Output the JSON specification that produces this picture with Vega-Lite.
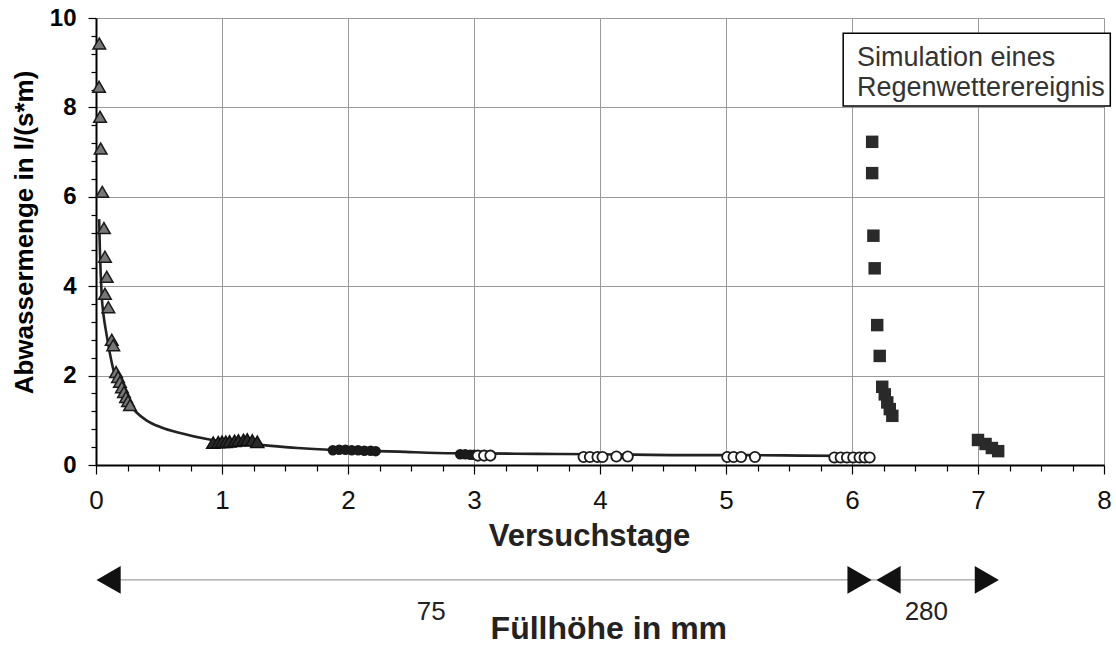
{
  "$schema": "https://vega.github.io/schema/vega-lite/v6.json",
  "width": 1008,
  "height": 447,
  "autosize": "none",
  "padding": {"left": 96, "top": 18, "right": 12, "bottom": 181},
  "background": "white",
  "config": {"view": {"stroke": null}, "font": "Liberation Sans"},
  "datasets": {
    "curve": [
      {"x": 0.025, "y": 5.5}, {"x": 0.03, "y": 4.9}, {"x": 0.037, "y": 4.3}, {"x": 0.045, "y": 3.8},
      {"x": 0.06, "y": 3.35}, {"x": 0.079, "y": 3.0}, {"x": 0.11, "y": 2.5}, {"x": 0.15, "y": 2.0},
      {"x": 0.2, "y": 1.65}, {"x": 0.25, "y": 1.42}, {"x": 0.32, "y": 1.18}, {"x": 0.4, "y": 1.0},
      {"x": 0.52, "y": 0.84}, {"x": 0.66, "y": 0.72}, {"x": 0.9, "y": 0.57}, {"x": 1.1, "y": 0.5},
      {"x": 1.3, "y": 0.45}, {"x": 1.6, "y": 0.38}, {"x": 1.85, "y": 0.34}, {"x": 2.1, "y": 0.32},
      {"x": 2.4, "y": 0.3}, {"x": 2.7, "y": 0.27}, {"x": 3.0, "y": 0.26}, {"x": 3.5, "y": 0.25},
      {"x": 4.0, "y": 0.24}, {"x": 4.7, "y": 0.22}, {"x": 5.2, "y": 0.22}, {"x": 5.6, "y": 0.21},
      {"x": 6.12, "y": 0.2}
    ],
    "tri": [
      {"x": 0.026, "y": 9.43}, {"x": 0.024, "y": 8.46}, {"x": 0.032, "y": 7.79}, {"x": 0.037, "y": 7.08},
      {"x": 0.05, "y": 6.11}, {"x": 0.063, "y": 5.3}, {"x": 0.071, "y": 4.66}, {"x": 0.085, "y": 4.21},
      {"x": 0.071, "y": 3.83}, {"x": 0.098, "y": 3.53}, {"x": 0.125, "y": 2.8}, {"x": 0.137, "y": 2.68},
      {"x": 0.159, "y": 2.08}, {"x": 0.175, "y": 1.97}, {"x": 0.19, "y": 1.86}, {"x": 0.206, "y": 1.74},
      {"x": 0.222, "y": 1.63}, {"x": 0.238, "y": 1.52}, {"x": 0.254, "y": 1.43}, {"x": 0.27, "y": 1.34}
    ],
    "tri1": [
      {"x": 0.93, "y": 0.5}, {"x": 0.97, "y": 0.51}, {"x": 1.0, "y": 0.52}, {"x": 1.03, "y": 0.52},
      {"x": 1.06, "y": 0.53}, {"x": 1.1, "y": 0.54}, {"x": 1.13, "y": 0.55}, {"x": 1.17, "y": 0.56},
      {"x": 1.2, "y": 0.57}, {"x": 1.24, "y": 0.55}, {"x": 1.28, "y": 0.52}
    ],
    "dots": [
      {"x": 1.88, "y": 0.33}, {"x": 1.93, "y": 0.34}, {"x": 1.98, "y": 0.34}, {"x": 2.03, "y": 0.33},
      {"x": 2.08, "y": 0.33}, {"x": 2.13, "y": 0.32}, {"x": 2.18, "y": 0.32}, {"x": 2.22, "y": 0.31},
      {"x": 2.89, "y": 0.24}, {"x": 2.93, "y": 0.24}, {"x": 2.97, "y": 0.23}, {"x": 3.0, "y": 0.23}
    ],
    "open": [
      {"x": 3.03, "y": 0.21}, {"x": 3.08, "y": 0.21}, {"x": 3.13, "y": 0.21},
      {"x": 3.87, "y": 0.18}, {"x": 3.92, "y": 0.18}, {"x": 3.98, "y": 0.18}, {"x": 4.02, "y": 0.18},
      {"x": 4.13, "y": 0.19}, {"x": 4.22, "y": 0.19},
      {"x": 5.01, "y": 0.18}, {"x": 5.06, "y": 0.18}, {"x": 5.12, "y": 0.18}, {"x": 5.23, "y": 0.18},
      {"x": 5.86, "y": 0.17}, {"x": 5.91, "y": 0.17}, {"x": 5.96, "y": 0.17}, {"x": 6.01, "y": 0.17},
      {"x": 6.06, "y": 0.17}, {"x": 6.1, "y": 0.17}, {"x": 6.14, "y": 0.17}
    ],
    "sq": [
      {"x": 6.16, "y": 7.23}, {"x": 6.16, "y": 6.53}, {"x": 6.17, "y": 5.13}, {"x": 6.18, "y": 4.4},
      {"x": 6.2, "y": 3.13}, {"x": 6.22, "y": 2.44}, {"x": 6.24, "y": 1.75}, {"x": 6.26, "y": 1.58},
      {"x": 6.28, "y": 1.4}, {"x": 6.3, "y": 1.25}, {"x": 6.32, "y": 1.1},
      {"x": 7.0, "y": 0.56}, {"x": 7.06, "y": 0.47}, {"x": 7.11, "y": 0.38}, {"x": 7.16, "y": 0.31}
    ],
    "box": [{"x": 5.93, "x2": 8.05, "y": 9.66, "y2": 8.03}],
    "boxtext": [
      {"x": 6.04, "y": 9.1, "t": "Simulation eines"},
      {"x": 6.04, "y": 8.43, "t": "Regenwetterereignis"}
    ],
    "arrowline": [{"x": 0.05, "x2": 7.15, "y": -2.57}],
    "heads": [
      {"x": 0.1, "y": -2.57, "s": "triangle-left"},
      {"x": 6.06, "y": -2.57, "s": "triangle-right"},
      {"x": 6.29, "y": -2.57, "s": "triangle-left"},
      {"x": 7.07, "y": -2.57, "s": "triangle-right"}
    ],
    "nums": [
      {"x": 2.66, "y": -3.29, "t": "75"},
      {"x": 6.59, "y": -3.29, "t": "280"}
    ],
    "sub": [{"x": 4.07, "y": -3.68, "t": "Füllhöhe in mm"}]
  },
  "encoding": {
    "x": {
      "field": "x", "type": "quantitative",
      "scale": {"domain": [0, 8], "nice": false, "zero": false},
      "axis": {
        "values": [0,0.25,0.5,0.75,1,1.25,1.5,1.75,2,2.25,2.5,2.75,3,3.25,3.5,3.75,4,4.25,4.5,4.75,5,5.25,5.5,5.75,6,6.25,6.5,6.75,7,7.25,7.5,7.75,8],
        "labelExpr": "abs(datum.value - round(datum.value)) < 0.001 ? format(datum.value, 'd') : ''",
        "labelOverlap": false,
        "labelFlush": false,
        "grid": true,
        "gridColor": "#9a9a9a",
        "gridWidth": 1,
        "gridOpacity": {"condition": {"test": "abs(datum.value - round(datum.value)) < 0.001", "value": 1}, "value": 0},
        "tickSize": {"condition": {"test": "abs(datum.value - round(datum.value)) < 0.001", "value": 9}, "value": 6},
        "tickColor": "#000",
        "tickWidth": 1.2,
        "domainColor": "#000",
        "domainWidth": 2,
        "labelFont": "Liberation Sans",
        "labelFontSize": 26,
        "labelColor": "#111",
        "labelPadding": 13,
        "title": "Versuchstage",
        "titleFont": "Liberation Sans",
        "titleFontSize": 31,
        "titleFontWeight": "bold",
        "titleColor": "#222",
        "titlePadding": 8,
        "titleX": 493
      }
    },
    "y": {
      "field": "y", "type": "quantitative",
      "scale": {"domain": [0, 10], "nice": false, "zero": false},
      "axis": {
        "values": [0,0.4,0.8,1.2,1.6,2,2.4,2.8,3.2,3.6,4,4.4,4.8,5.2,5.6,6,6.4,6.8,7.2,7.6,8,8.4,8.8,9.2,9.6,10],
        "labelExpr": "abs(datum.value/2 - round(datum.value/2)) < 0.001 ? format(datum.value, 'd') : ''",
        "labelOverlap": false,
        "labelFlush": false,
        "grid": true,
        "gridColor": "#9a9a9a",
        "gridWidth": 1,
        "gridOpacity": {"condition": {"test": "abs(datum.value/2 - round(datum.value/2)) < 0.001", "value": 1}, "value": 0},
        "tickSize": {"condition": {"test": "abs(datum.value/2 - round(datum.value/2)) < 0.001", "value": 8}, "value": 5},
        "tickColor": "#000",
        "tickWidth": 1.2,
        "domainColor": "#000",
        "domainWidth": 2,
        "labelFont": "Liberation Sans",
        "labelFontSize": 24,
        "labelFontWeight": "bold",
        "labelColor": "#000",
        "labelPadding": 12,
        "title": "Abwassermenge in l/(s*m)",
        "titleFont": "Liberation Sans",
        "titleFontSize": 26,
        "titleFontWeight": "bold",
        "titleColor": "#000",
        "titlePadding": 12,
        "titleY": 214
      }
    }
  },
  "layer": [
    {"data": {"name": "curve"}, "mark": {"type": "line", "color": "#222", "strokeWidth": 2.6, "interpolate": "monotone"}},
    {"data": {"name": "tri"}, "mark": {"type": "point", "shape": "triangle-up", "filled": true, "fill": "#777", "stroke": "#1a1a1a", "strokeWidth": 1.5, "size": 160, "opacity": 1}},
    {"data": {"name": "tri1"}, "mark": {"type": "point", "shape": "triangle-up", "filled": true, "fill": "#2a2a2a", "stroke": "#111", "strokeWidth": 1.5, "size": 170, "opacity": 1}},
    {"data": {"name": "dots"}, "mark": {"type": "point", "shape": "circle", "filled": true, "color": "#1a1a1a", "size": 110, "opacity": 1}},
    {"data": {"name": "open"}, "mark": {"type": "point", "shape": "circle", "filled": true, "fill": "white", "stroke": "#1a1a1a", "strokeWidth": 1.8, "size": 105, "opacity": 1}},
    {"data": {"name": "sq"}, "mark": {"type": "point", "shape": "square", "filled": true, "color": "#2a2a2a", "size": 155, "opacity": 1}},
    {"data": {"name": "box"}, "mark": {"type": "rect", "fill": "white", "stroke": "#000", "strokeWidth": 1.5}, "encoding": {"x2": {"field": "x2"}, "y2": {"field": "y2"}}},
    {"data": {"name": "boxtext"}, "mark": {"type": "text", "align": "left", "baseline": "middle", "fontSize": 27, "font": "Liberation Sans", "color": "#333"}, "encoding": {"text": {"field": "t"}}},
    {"data": {"name": "arrowline"}, "mark": {"type": "rule", "color": "#888", "strokeWidth": 1}, "encoding": {"x2": {"field": "x2"}}},
    {"data": {"name": "heads"}, "mark": {"type": "point", "filled": true, "color": "#111", "size": 780, "opacity": 1}, "encoding": {"shape": {"field": "s", "type": "nominal", "scale": null}}},
    {"data": {"name": "nums"}, "mark": {"type": "text", "align": "center", "baseline": "middle", "fontSize": 26, "font": "Liberation Sans", "color": "#222"}, "encoding": {"text": {"field": "t"}}},
    {"data": {"name": "sub"}, "mark": {"type": "text", "align": "center", "baseline": "middle", "fontSize": 32, "fontWeight": "bold", "font": "Liberation Sans", "color": "#222"}, "encoding": {"text": {"field": "t"}}}
  ]
}
